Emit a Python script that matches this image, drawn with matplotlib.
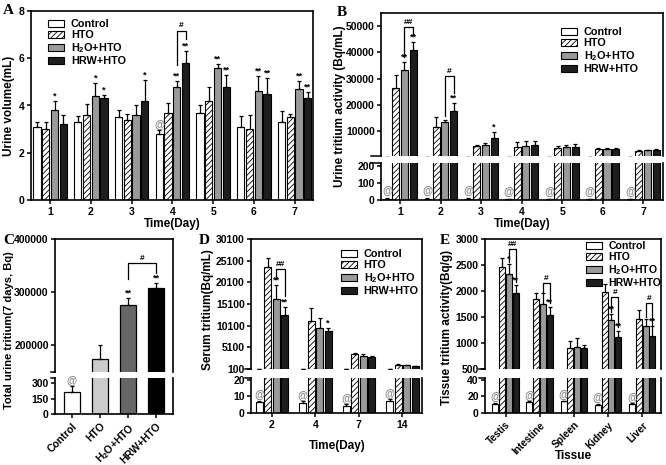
import matplotlib
matplotlib.use('Agg')
import matplotlib.pyplot as plt
import numpy as np
from matplotlib.patches import Patch

plt.rcParams['font.family'] = ['Liberation Sans', 'DejaVu Sans']
plt.rcParams['font.weight'] = 'bold'
plt.rcParams['axes.labelweight'] = 'bold'
plt.rcParams['mathtext.fontset'] = 'custom'
plt.rcParams['mathtext.rm'] = 'Liberation Sans:bold'
plt.rcParams['mathtext.it'] = 'Liberation Sans:bold'
plt.rcParams['mathtext.bf'] = 'Liberation Sans:bold'
plt.rcParams['hatch.linewidth'] = 0.6
plt.rcParams['axes.linewidth'] = 1.2
plt.rcParams['xtick.major.width'] = 1.1
plt.rcParams['ytick.major.width'] = 1.1
plt.rcParams['xtick.major.size'] = 3
plt.rcParams['ytick.major.size'] = 3
plt.rcParams['xtick.labelsize'] = 7.5
plt.rcParams['ytick.labelsize'] = 7.5
plt.rcParams['xtick.major.pad'] = 2
plt.rcParams['ytick.major.pad'] = 1.5

groups = ['Control', 'HTO', 'H$_2$O+HTO', 'HRW+HTO']

# ---------------- Panel A: urine volume (mL) ----------------
days_A = [1, 2, 3, 4, 5, 6, 7]
a_ctrl = [3.1, 3.3, 3.5, 2.8, 3.7, 3.1, 3.3]
a_ctrl_err = [0.2, 0.25, 0.3, 0.15, 0.3, 0.46, 0.45]
a_hto = [3.0, 3.6, 3.4, 3.7, 4.2, 3.0, 3.5]
a_hto_err = [0.3, 0.45, 0.25, 0.4, 0.6, 0.6, 0.14]
a_h2o = [3.8, 4.4, 3.6, 4.8, 5.6, 4.6, 4.7]
a_h2o_err = [0.4, 0.55, 0.4, 0.25, 0.15, 0.64, 0.32]
a_hrw = [3.2, 4.3, 4.2, 5.8, 4.8, 4.5, 4.3]
a_hrw_err = [0.4, 0.15, 0.9, 0.5, 0.5, 0.66, 0.27]
a_marks = [(1, 2, '*'), (2, 2, '*'), (2, 3, '*'), (3, 3, '*'), (4, 2, '**'), (4, 3, '**'),
           (5, 2, '**'), (5, 3, '**'), (6, 2, '**'), (6, 3, '**'), (7, 2, '**'), (7, 3, '**')]
a_at = [4]
a_bracket = (4, 5.7, 6.8, 7.17, '#')

# ---------------- Panel B: urine tritium activity (Bq/mL) ----------------
days_B = [1, 2, 3, 4, 5, 6, 7]
b_ctrl = [8, 8, 8, 7, 7, 7, 5]
b_ctrl_err = [1, 1, 1, 1, 1, 1, 1]
b_hto = [26300, 11600, 4200, 3950, 3570, 3060, 2430]
b_hto_err = [5000, 3800, 630, 1850, 730, 500, 500]
b_h2o = [33300, 13600, 4830, 4200, 3950, 3300, 2690]
b_h2o_err = [3200, 800, 630, 1900, 880, 250, 150]
b_hrw = [40800, 17800, 7480, 4580, 4070, 3300, 2940]
b_hrw_err = [3000, 3000, 2000, 1600, 1000, 150, 150]
b_marks = [(1, 2, '**'), (1, 3, '**'), (2, 3, '**'), (3, 3, '*')]
b_brackets = [(1, 38400, 46800, 49700, '##'), (2, 15900, 24500, 30800, '#')]

# ---------------- Panel C: total urine tritium (7 days, Bq) ----------------
c_vals = [210, 175000, 276000, 308000]
c_errs = [60, 25000, 14000, 9000]
c_colors = ['white', '#cccccc', '#666666', '#000000']
c_marks = [(2, '**'), (3, '**')]
c_bracket = (2, 3, 325000, 336000, 354000, '#')

# ---------------- Panel D: serum tritium (Bq/mL) ----------------
days_D = ['2', '4', '7', '14']
d_ctrl = [6.5, 6.0, 4.5, 7.0]
d_ctrl_err = [0.8, 1.0, 0.8, 1.2]
d_hto = [23700, 11200, 3600, 1100]
d_hto_err = [2000, 2900, 300, 100]
d_h2o = [16200, 9600, 3150, 1000]
d_h2o_err = [3200, 2200, 350, 80]
d_hrw = [12600, 8800, 2850, 700]
d_hrw_err = [1900, 800, 300, 80]
d_marks = [(0, 2, '**'), (0, 3, '**'), (1, 3, '*')]
d_bracket = (0, 20800, 17000, 23200, '##')

# ---------------- Panel E: tissue tritium activity (Bq/g) ----------------
tissues = ['Testis', 'Intestine', 'Spleen', 'Kidney', 'Liver']
e_ctrl = [11, 13, 14, 10, 11]
e_ctrl_err = [1.5, 1, 1, 1, 1]
e_hto = [2470, 1840, 900, 1990, 1460]
e_hto_err = [160, 120, 140, 150, 180]
e_h2o = [2330, 1750, 920, 1450, 1320]
e_h2o_err = [190, 220, 170, 110, 140]
e_hrw = [1970, 1540, 900, 1120, 1140]
e_hrw_err = [150, 160, 70, 110, 180]
e_marks = [(0, 2, '*'), (0, 3, '**'), (1, 3, '**'), (3, 2, '**'), (3, 3, '**'), (4, 3, '**')]
e_brackets = [(0, 2560, 2170, 2800, '##'), (1, 1990, 1760, 2150, '#'),
              (3, 1600, 1300, 1890, '#'), (4, 1500, 1350, 1770, '#')]

# ---------------- figure ----------------
W, H = 666, 465
fig = plt.figure(figsize=(W / 100, H / 100), dpi=100)


def ax_at(l, t, r, b):
    return fig.add_axes([l / W, 1 - b / H, (r - l) / W, (b - t) / H])


FACE = ['white', 'white', '#9a9a9a', '#1e1e1e']
HATCH = [None, '//////', None, None]
GRAY = '#8a8a8a'
ERRKW = dict(elinewidth=0.9, capsize=1.6, capthick=0.9, ecolor='black')


def draw_bars(ax, x, vals, errs, step, width):
    x = np.asarray(x, float)
    for i in range(4):
        v = np.asarray(vals[i], float)
        e = np.asarray(errs[i], float)
        ax.bar(x + (i - 1.5) * step, v, width, yerr=[np.zeros_like(e), e],
               facecolor=FACE[i], edgecolor='black', hatch=HATCH[i],
               linewidth=0.8, error_kw=ERRKW)


def mark(ax, x, y, s, color='black', fs=6.5, dy=0.3):
    ax.annotate(s, (x, y), xytext=(0, dy), textcoords='offset points',
                ha='center', va='bottom', fontsize=fs, color=color)


def bracket(ax, x1, x2, y1, y2, ytop, s):
    ax.plot([x1, x1, x2, x2], [y1, ytop, ytop, y2], color='black', lw=0.9)
    mark(ax, (x1 + x2) / 2, ytop, s, fs=6, dy=0.8)


def legend(ax, x, y, fs=7.8):
    handles = [Patch(facecolor=FACE[i], edgecolor='black', hatch=HATCH[i],
                     linewidth=0.8, label=groups[i]) for i in range(4)]
    ax.legend(handles=handles, loc='upper left', bbox_to_anchor=(x / W, 1 - y / H),
              bbox_transform=fig.transFigure, frameon=False, fontsize=fs,
              handlelength=1.5, handleheight=0.65, labelspacing=0.1,
              handletextpad=0.6, borderpad=0, borderaxespad=0)


def split_style(up, lo):
    up.spines['bottom'].set_visible(False)
    up.tick_params(axis='x', bottom=False, labelbottom=False)
    lo.spines['top'].set_visible(False)
    for a, yv in ((up, 0.0), (lo, 1.0)):
        a.plot([-0.035, 0.0], [yv, yv], transform=a.transAxes, color='black',
               lw=1.1, clip_on=False)


def panel_letter(x, y, s):
    fig.text(x / W, 1 - y / H, s, family='Liberation Serif', weight='bold',
             fontsize=11, ha='left', va='center')


STEP4 = 0.215
WID4 = 0.175

# ----- A -----
axA = ax_at(31, 11, 313, 200)
xA = np.array(days_A, float)
draw_bars(axA, xA, [a_ctrl, a_hto, a_h2o, a_hrw],
          [a_ctrl_err, a_hto_err, a_h2o_err, a_hrw_err], STEP4, WID4)
valsA = [a_ctrl, a_hto, a_h2o, a_hrw]
errsA = [a_ctrl_err, a_hto_err, a_h2o_err, a_hrw_err]
for d, g, s in a_marks:
    mark(axA, d + (g - 1.5) * STEP4, valsA[g][d - 1] + errsA[g][d - 1], s)
for d in a_at:
    mark(axA, d - 1.5 * STEP4, a_ctrl[d - 1] + a_ctrl_err[d - 1], '@', color=GRAY, fs=7.5)
d, y1, y2, yt, s = a_bracket
bracket(axA, d + 0.5 * STEP4, d + 1.5 * STEP4, y1, y2, yt, s)
axA.set_xlim(0.53, 7.45)
axA.set_ylim(0, 8)
axA.set_xticks(days_A)
axA.set_yticks([0, 2, 4, 6, 8])
axA.set_xlabel('Time(Day)', fontsize=8.5, labelpad=1)
axA.set_ylabel('Urine volume(mL)', fontsize=8.5, labelpad=3)
legend(axA, 48, 19)
panel_letter(3, 11, 'A')

# ----- B -----
bUp = ax_at(381, 13, 663, 156)
bLo = ax_at(381, 163, 663, 200)
xB = np.array(days_B, float)
valsB = [b_ctrl, b_hto, b_h2o, b_hrw]
errsB = [b_ctrl_err, b_hto_err, b_h2o_err, b_hrw_err]
for a in (bUp, bLo):
    draw_bars(a, xB, valsB, errsB, STEP4, WID4)
    a.set_xlim(0.53, 7.49)
bUp.set_ylim(500, 55000)
bUp.set_yticks([10000, 20000, 30000, 40000, 50000])
bLo.set_ylim(0, 215)
bLo.set_yticks([0, 100, 200])
bLo.set_xticks(days_B)
split_style(bUp, bLo)
for d, g, s in b_marks:
    mark(bUp, d + (g - 1.5) * STEP4, valsB[g][d - 1] + errsB[g][d - 1], s)
for i, d in enumerate(days_B):
    mark(bLo, d - 1.5 * STEP4, b_ctrl[i] + b_ctrl_err[i], '@', color=GRAY, fs=7.5, dy=1.5)
for d, y1, y2, yt, s in b_brackets:
    bracket(bUp, d + 0.5 * STEP4, d + 1.5 * STEP4, y1, y2, yt, s)
bLo.set_xlabel('Time(Day)', fontsize=8.5, labelpad=1)
fig.text(340 / W, 1 - 106 / H, 'Urine tritium activity (Bq/mL)', rotation=90,
         fontsize=8.5, weight='bold', ha='center', va='center')
legend(bUp, 561, 27)
panel_letter(337, 13, 'B')

# ----- C -----
cUp = ax_at(55, 239, 173, 372)
cLo = ax_at(55, 378, 173, 414)
xC = np.arange(4)
for a in (cUp, cLo):
    a.bar(xC, c_vals, 0.57, yerr=[np.zeros(4), c_errs], color=c_colors,
          edgecolor='black', linewidth=0.9, error_kw=ERRKW)
    a.set_xlim(-0.6, 3.6)
cUp.set_ylim(150000, 400000)
cUp.set_yticks([200000, 300000, 400000])
cLo.set_ylim(0, 350)
cLo.set_yticks([0, 150, 300])
split_style(cUp, cLo)
cLo.set_xticks(xC)
cLo.set_xticklabels(groups, rotation=45, ha='right', rotation_mode='anchor', fontsize=7.5)
for g, s in c_marks:
    mark(cUp, g, c_vals[g] + c_errs[g], s)
mark(cLo, 0, c_vals[0] + c_errs[0], '@', color=GRAY, fs=7.5)
g1, g2, y1, y2, yt, s = c_bracket
bracket(cUp, g1, g2, y1, y2, yt, s)
fig.text(9 / W, 1 - 330 / H, 'Total urine tritium(7 days, Bq)', rotation=90,
         fontsize=8, weight='bold', ha='center', va='center')
panel_letter(3, 240, 'C')

# ----- D -----
dUp = ax_at(251, 239, 422, 369)
dLo = ax_at(251, 378, 422, 413)
xD = np.arange(len(days_D), dtype=float)
STEPD, WIDD = 0.195, 0.16
valsD = [d_ctrl, d_hto, d_h2o, d_hrw]
errsD = [d_ctrl_err, d_hto_err, d_h2o_err, d_hrw_err]
for a in (dUp, dLo):
    draw_bars(a, xD, valsD, errsD, STEPD, WIDD)
    a.set_xlim(-0.48, 3.45)
dUp.set_ylim(100, 30100)
dUp.set_yticks([100, 5100, 10100, 15100, 20100, 25100, 30100])
dLo.set_ylim(0, 21)
dLo.set_yticks([0, 10, 20])
split_style(dUp, dLo)
dLo.set_xticks(xD)
dLo.set_xticklabels(days_D)
for d, g, s in d_marks:
    mark(dUp, d + (g - 1.5) * STEPD, valsD[g][d] + errsD[g][d], s)
for i in range(len(days_D)):
    mark(dLo, i - 1.5 * STEPD, d_ctrl[i] + d_ctrl_err[i], '@', color=GRAY, fs=7.5)
d, y1, y2, yt, s = d_bracket
bracket(dUp, d + 0.5 * STEPD, d + 1.5 * STEPD, y1, y2, yt, s)
fig.text(337 / W, 1 - 446 / H, 'Time(Day)', fontsize=8.5, weight='bold',
         ha='center', va='center')
fig.text(208 / W, 1 - 310 / H, 'Serum tritium(Bq/mL)', rotation=90,
         fontsize=8.5, weight='bold', ha='center', va='center')
legend(dUp, 341, 249)
panel_letter(199, 240, 'D')

# ----- E -----
eUp = ax_at(485, 239, 661, 369)
eLo = ax_at(485, 378, 661, 413)
xE = np.arange(len(tissues), dtype=float)
STEPE, WIDE = 0.2, 0.175
valsE = [e_ctrl, e_hto, e_h2o, e_hrw]
errsE = [e_ctrl_err, e_hto_err, e_h2o_err, e_hrw_err]
for a in (eUp, eLo):
    draw_bars(a, xE, valsE, errsE, STEPE, WIDE)
    a.set_xlim(-0.6, 4.55)
eUp.set_ylim(500, 3000)
eUp.set_yticks([500, 1000, 1500, 2000, 2500, 3000])
eLo.set_ylim(0, 42)
eLo.set_yticks([0, 20, 40])
split_style(eUp, eLo)
eLo.set_xticks(xE)
eLo.set_xticklabels(tissues, rotation=45, ha='right', rotation_mode='anchor', fontsize=7.2)
for t, g, s in e_marks:
    mark(eUp, t + (g - 1.5) * STEPE, valsE[g][t] + errsE[g][t], s)
for i in range(len(tissues)):
    mark(eLo, i - 1.5 * STEPE, e_ctrl[i] + e_ctrl_err[i], '@', color=GRAY, fs=7.5)
for t, y1, y2, yt, s in e_brackets:
    bracket(eUp, t + 0.5 * STEPE, t + 1.5 * STEPE, y1, y2, yt, s)
fig.text(573 / W, 1 - 456 / H, 'Tissue', fontsize=8.5, weight='bold',
         ha='center', va='center')
fig.text(447 / W, 1 - 327 / H, 'Tissue tritium activity(Bq/g)', rotation=90,
         fontsize=8.5, weight='bold', ha='center', va='center')
legend(eUp, 586, 241, fs=7.6)
panel_letter(440, 240, 'E')

fig.savefig('out.png', dpi=100)
